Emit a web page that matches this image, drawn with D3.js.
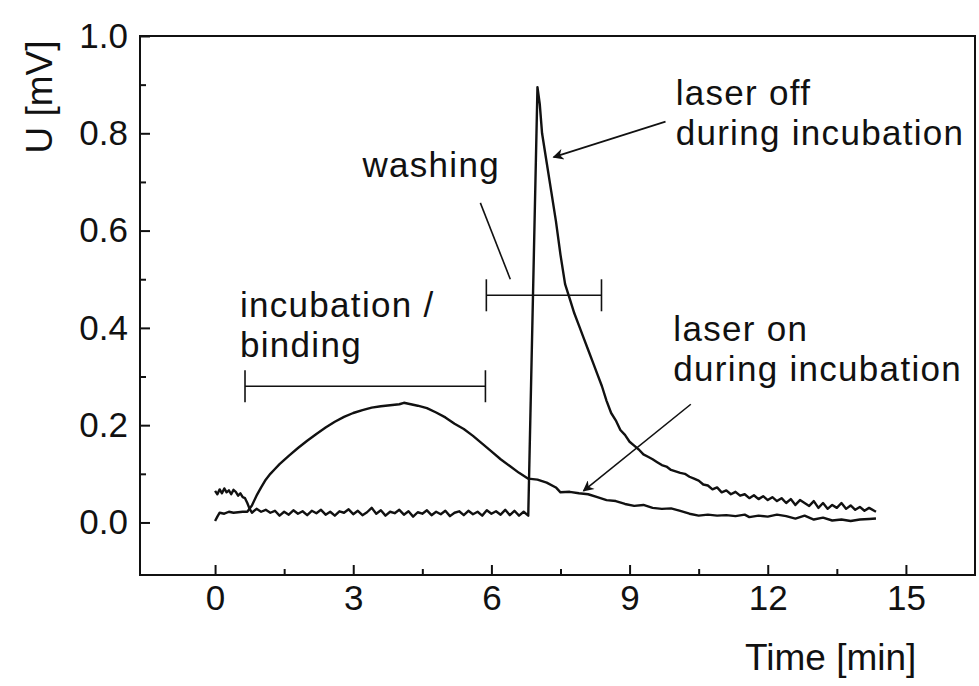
<!DOCTYPE html>
<html>
<head>
<meta charset="utf-8">
<script src="https://cdn.jsdelivr.net/npm/d3@7"></script>
<style>
  body { margin: 0; background: #fff; }
  text { font-family: "Liberation Sans", Arial, sans-serif; fill: #111; }
</style>
</head>
<body>
<div id="wrapper"></div>
<script>
// data: time [min] / U [mV]
const laserOnTime = [0.00, 0.05, 0.10, 0.20, 0.30, 0.40, 0.50, 0.60, 0.70, 0.80, 0.90, 1.00, 1.10, 1.20, 1.30, 1.40, 1.60, 1.80, 2.00, 2.20, 2.40, 2.60, 2.80, 3.00, 3.20, 3.40, 3.60, 3.80, 4.00, 4.10, 4.20, 4.40, 4.60, 4.80, 5.00, 5.20, 5.40, 5.60, 5.80, 6.00, 6.20, 6.40, 6.60, 6.80, 7.00, 7.20, 7.40, 7.50, 7.70, 7.90, 8.10, 8.30, 8.50, 8.70, 8.90, 9.10, 9.30, 9.50, 9.70, 9.90, 10.10, 10.30, 10.50, 10.70, 10.90, 11.10, 11.30, 11.50, 11.60, 11.80, 12.00, 12.20, 12.40, 12.60, 12.80, 13.00, 13.20, 13.40, 13.60, 13.80, 14.00, 14.20, 14.35]
const laserOnU = [0.003, 0.012, 0.020, 0.018, 0.022, 0.020, 0.021, 0.022, 0.022, 0.035, 0.055, 0.072, 0.088, 0.100, 0.110, 0.120, 0.137, 0.153, 0.168, 0.182, 0.195, 0.207, 0.217, 0.225, 0.231, 0.236, 0.239, 0.241, 0.243, 0.246, 0.244, 0.240, 0.235, 0.226, 0.216, 0.203, 0.192, 0.178, 0.162, 0.146, 0.130, 0.116, 0.102, 0.090, 0.088, 0.082, 0.072, 0.062, 0.063, 0.060, 0.058, 0.052, 0.046, 0.044, 0.038, 0.034, 0.036, 0.030, 0.028, 0.029, 0.024, 0.018, 0.014, 0.016, 0.014, 0.015, 0.013, 0.016, 0.011, 0.014, 0.012, 0.016, 0.013, 0.008, 0.014, 0.006, 0.010, 0.004, 0.006, 0.003, 0.006, 0.007, 0.008]

const laserOffTime = [0.00, 0.05, 0.10, 0.15, 0.20, 0.25, 0.30, 0.35, 0.40, 0.45, 0.50, 0.55, 0.60, 0.65, 0.70, 0.75, 0.80, 0.90, 1.00, 1.10, 1.20, 1.30, 1.40, 1.50, 1.60, 1.70, 1.80, 1.90, 2.00, 2.10, 2.20, 2.30, 2.40, 2.50, 2.60, 2.70, 2.80, 2.90, 3.00, 3.10, 3.20, 3.30, 3.40, 3.50, 3.60, 3.70, 3.80, 3.90, 4.00, 4.10, 4.20, 4.30, 4.40, 4.50, 4.60, 4.70, 4.80, 4.90, 5.00, 5.10, 5.20, 5.30, 5.40, 5.50, 5.60, 5.70, 5.80, 5.90, 6.00, 6.10, 6.20, 6.30, 6.40, 6.50, 6.60, 6.70, 6.80, 7.00, 7.05, 7.10, 7.20, 7.30, 7.40, 7.50, 7.60, 7.70, 7.80, 7.90, 8.00, 8.10, 8.20, 8.30, 8.40, 8.50, 8.60, 8.70, 8.80, 8.90, 9.00, 9.10, 9.20, 9.30, 9.40, 9.50, 9.60, 9.70, 9.80, 9.90, 10.00, 10.10, 10.20, 10.30, 10.40, 10.50, 10.60, 10.70, 10.80, 10.90, 11.00, 11.10, 11.20, 11.30, 11.40, 11.50, 11.60, 11.70, 11.80, 11.90, 12.00, 12.10, 12.20, 12.30, 12.40, 12.50, 12.60, 12.70, 12.80, 12.90, 13.00, 13.10, 13.20, 13.30, 13.40, 13.50, 13.60, 13.70, 13.80, 13.90, 14.00, 14.10, 14.20, 14.35]
const laserOffU = [0.065, 0.058, 0.068, 0.060, 0.070, 0.062, 0.066, 0.058, 0.067, 0.063, 0.055, 0.060, 0.052, 0.050, 0.040, 0.028, 0.020, 0.028, 0.022, 0.026, 0.020, 0.024, 0.014, 0.022, 0.016, 0.025, 0.018, 0.023, 0.015, 0.024, 0.019, 0.026, 0.016, 0.022, 0.014, 0.023, 0.020, 0.027, 0.017, 0.024, 0.015, 0.021, 0.030, 0.018, 0.025, 0.014, 0.022, 0.019, 0.026, 0.016, 0.023, 0.012, 0.021, 0.018, 0.025, 0.015, 0.022, 0.017, 0.024, 0.013, 0.020, 0.023, 0.015, 0.024, 0.017, 0.022, 0.014, 0.025, 0.018, 0.023, 0.016, 0.026, 0.015, 0.024, 0.014, 0.022, 0.014, 0.895, 0.860, 0.800, 0.740, 0.680, 0.620, 0.550, 0.490, 0.460, 0.430, 0.405, 0.380, 0.355, 0.330, 0.305, 0.280, 0.250, 0.225, 0.210, 0.190, 0.180, 0.166, 0.158, 0.150, 0.140, 0.135, 0.130, 0.124, 0.118, 0.115, 0.108, 0.105, 0.102, 0.100, 0.094, 0.090, 0.086, 0.078, 0.076, 0.068, 0.072, 0.062, 0.066, 0.058, 0.063, 0.055, 0.058, 0.050, 0.056, 0.048, 0.054, 0.046, 0.052, 0.044, 0.050, 0.040, 0.048, 0.036, 0.046, 0.040, 0.034, 0.044, 0.030, 0.040, 0.028, 0.036, 0.030, 0.040, 0.028, 0.035, 0.026, 0.032, 0.024, 0.030, 0.022]

const xTicks = [0, 3, 6, 9, 12, 15]
const xMinorTicks = [1.5, 4.5, 7.5, 10.5, 13.5]
const yTicks = [0, 0.2, 0.4, 0.6, 0.8, 1.0]
const yMinorTicks = [0.1, 0.3, 0.5, 0.7, 0.9]

// interval brackets: [start, end, level]
const brackets = [
  [0.65, 5.87, 0.28],   // incubation / binding
  [5.89, 8.39, 0.467]   // washing
]

// labels: [lines, x, y] in data units (x = left edge, y = first baseline)
const labels = [
  [['laser off', 'during incubation'], 10.0, 0.858],
  [['washing'], 3.2, 0.71],
  [['incubation /', 'binding'], 0.54, 0.423],
  [['laser on', 'during incubation'], 9.95, 0.373]
]

// pointer lines: [x1, y1, x2, y2, hasArrow]
const pointers = [
  [5.76, 0.657, 6.41, 0.50, false],
  [9.78, 0.824, 7.35, 0.751, true],
  [10.33, 0.243, 8.0, 0.065, true]
]

//dimensions
let dimensions = {
  width: 979,
  height: 686,
  margin: { top: 36, right: 4, bottom: 111, left: 140 }
}
dimensions.boundedWidth = dimensions.width - dimensions.margin.left - dimensions.margin.right
dimensions.boundedHeight = dimensions.height - dimensions.margin.top - dimensions.margin.bottom

const wrapper = d3.select('#wrapper')
  .append('svg')
    .attr('width', dimensions.width)
    .attr('height', dimensions.height)

wrapper.append('defs').append('marker')
    .attr('id', 'head')
    .attr('viewBox', '0 0 10 10')
    .attr('refX', 9)
    .attr('refY', 5)
    .attr('markerUnits', 'userSpaceOnUse')
    .attr('markerWidth', 15)
    .attr('markerHeight', 11)
    .attr('orient', 'auto')
  .append('path')
    .attr('d', 'M0,0 L10,5 L0,10 L3,5 Z')
    .attr('fill', '#111')

const bounds = wrapper.append('g')
  .attr('transform', `translate(${dimensions.margin.left},${dimensions.margin.top})`)

//scales
const xScale = d3.scaleLinear()
  .domain([-1.63, 16.5])
  .range([0, dimensions.boundedWidth])

const yScale = d3.scaleLinear()
  .domain([-0.108, 1.0])
  .range([dimensions.boundedHeight, 0])

//axes (ticks point inwards)
bounds.append('g')
  .attr('transform', `translate(0,${dimensions.boundedHeight})`)
  .call(d3.axisBottom(xScale).tickValues(xTicks).tickSize(-10).tickPadding(10).tickFormat(d3.format('d')))
bounds.append('g')
  .attr('transform', `translate(0,${dimensions.boundedHeight})`)
  .call(d3.axisBottom(xScale).tickValues(xMinorTicks).tickSize(-6).tickFormat(''))

bounds.append('g')
  .call(d3.axisLeft(yScale).tickValues(yTicks).tickSize(-10).tickPadding(12).tickFormat(d3.format('.1f')))
bounds.append('g')
  .call(d3.axisLeft(yScale).tickValues(yMinorTicks).tickSize(-6).tickFormat(''))

bounds.selectAll('.domain').remove()
bounds.selectAll('.tick line').attr('stroke', '#111').attr('stroke-width', 2)
bounds.selectAll('.tick text')
  .attr('font-size', 35)
  .attr('font-family', '"Liberation Sans", Arial, sans-serif')
  .attr('fill', '#111')

// frame
bounds.append('rect')
  .attr('x', 0)
  .attr('y', 0)
  .attr('width', dimensions.boundedWidth)
  .attr('height', dimensions.boundedHeight)
  .attr('fill', 'none')
  .attr('stroke', '#111')
  .attr('stroke-width', 2)

// axis titles
wrapper.append('text')
  .attr('x', 745)
  .attr('y', 670)
  .attr('font-size', 37)
  .text('Time [min]')

wrapper.append('text')
  .attr('transform', 'translate(52,97) rotate(-90)')
  .attr('text-anchor', 'middle')
  .attr('font-size', 37)
  .text('U [mV]')

//draw data
const lineGenerator = d3.line()
  .x(d => xScale(d[0]))
  .y(d => yScale(d[1]))

const series = [
  d3.zip(laserOnTime, laserOnU),
  d3.zip(laserOffTime, laserOffU)
]

bounds.selectAll('.curve')
  .data(series)
  .enter().append('path')
    .attr('class', 'curve')
    .attr('d', lineGenerator)
    .attr('fill', 'none')
    .attr('stroke', '#111')
    .attr('stroke-width', 2.4)
    .attr('stroke-linejoin', 'round')

// brackets
const bracketGroup = bounds.selectAll('.bracket')
  .data(brackets)
  .enter().append('g')
    .attr('class', 'bracket')
    .attr('stroke', '#111')
    .attr('stroke-width', 1.6)

bracketGroup.append('line')
  .attr('x1', d => xScale(d[0]))
  .attr('x2', d => xScale(d[1]))
  .attr('y1', d => yScale(d[2]))
  .attr('y2', d => yScale(d[2]))
bracketGroup.selectAll('.end')
  .data(d => [[d[0], d[2]], [d[1], d[2]]])
  .enter().append('line')
    .attr('x1', d => xScale(d[0]))
    .attr('x2', d => xScale(d[0]))
    .attr('y1', d => yScale(d[1]) - 16)
    .attr('y2', d => yScale(d[1]) + 16)

// pointers
bounds.selectAll('.pointer')
  .data(pointers)
  .enter().append('line')
    .attr('class', 'pointer')
    .attr('x1', d => xScale(d[0]))
    .attr('y1', d => yScale(d[1]))
    .attr('x2', d => xScale(d[2]))
    .attr('y2', d => yScale(d[3]))
    .attr('stroke', '#111')
    .attr('stroke-width', 1.6)
    .attr('marker-end', d => d[4] ? 'url(#head)' : null)

// annotation text, one text per label, lines as tspans
const labelText = bounds.selectAll('.label')
  .data(labels)
  .enter().append('text')
    .attr('class', 'label')
    .attr('x', d => xScale(d[1]))
    .attr('y', d => yScale(d[2]))
    .attr('font-size', 35)
    .attr('letter-spacing', 1.3)

labelText.selectAll('tspan')
  .data(d => d[0].map((line, i) => ({ line, i, x: xScale(d[1]) })))
  .enter().append('tspan')
    .attr('x', d => d.x)
    .attr('dy', d => d.i === 0 ? 0 : 40)
    .text(d => d.line)
</script>
</body>
</html>
